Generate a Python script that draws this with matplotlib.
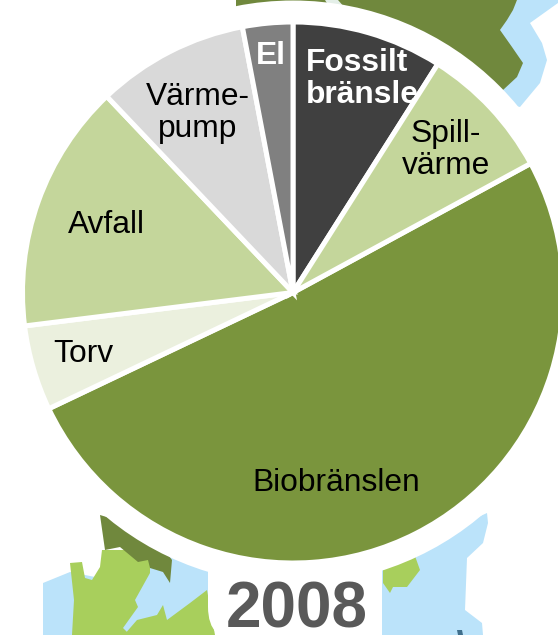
import matplotlib.pyplot as plt
from matplotlib.patches import Polygon, Circle, FancyBboxPatch

plt.rcParams['font.family'] = ['Liberation Sans', 'DejaVu Sans']

# andelar i procent, medurs fran toppen
categories = ["Fossilt bränsle", "Spillvärme", "Biobränslen", "Torv", "Avfall", "Värmepump", "El"]
values = [9.0, 8.1, 50.9, 5.1, 14.9, 9.1, 3.0]
colors = ["#404040", "#C4D69B", "#7A953D", "#EBF0DE", "#C4D69B", "#D9D9D9", "#808080"]
year = "2008"

BLUE = "#BBE3FA"
DARK_GREEN = "#70883D"
LIGHT_GREEN = "#A8CF5C"

fig = plt.figure(figsize=(5.58, 6.35), dpi=100)
ax = fig.add_axes([0, 0, 1, 1])

# kartan i bakgrunden, i pixelkoordinater
map_shapes = [
    (BLUE, [(517, 0), (558, 0), (558, 3), (530, 23), (542, 43), (547, 60), (540, 83), (520, 107), (490, 100), (500, 30)]),
    (DARK_GREEN, [(236, 0), (517, 0), (513, 10), (507, 20), (500, 30), (512, 47), (523, 63), (517, 77), (503, 90), (480, 110), (300, 60), (236, 30)]),
    ("#E4EFE8", [(325, 0), (338, 0), (345, 8), (330, 8)]),
    (BLUE, [(43, 583), (70, 572), (100, 578), (150, 540), (208, 550), (208, 635), (43, 635)]),
    (LIGHT_GREEN, [(70, 563), (82, 562), (85, 578), (92, 580), (100, 567), (102, 550), (150, 550), (150, 573), (135, 600),
                   (138, 607), (123, 628), (130, 635), (72, 635), (74, 600)]),
    (LIGHT_GREEN, [(124, 635), (137, 620), (157, 615), (163, 605), (167, 620), (190, 603), (207, 590), (215, 635)]),
    (DARK_GREEN, [(100, 515), (105, 550), (120, 547), (138, 562), (148, 560), (150, 568), (163, 572), (170, 583), (172, 560), (150, 530)]),
    (BLUE, [(487, 513), (488, 523), (483, 543), (467, 558), (465, 610), (482, 623), (483, 635), (382, 635), (382, 560), (450, 530)]),
    (LIGHT_GREEN, [(383, 568), (415, 556), (420, 570), (407, 587), (393, 587), (390, 593), (383, 583)]),
    ("#3F6F8C", [(457, 630), (462, 630), (463, 635), (458, 635)]),
]
for color, points in map_shapes:
    ax.add_patch(Polygon(points, closed=True, facecolor=color, edgecolor='none', zorder=0))

# vit ring runt diagrammet
ax.add_patch(Circle((293, 292.5), 292, facecolor='white', edgecolor='none', zorder=0.5))
ax.add_patch(FancyBboxPatch((243, 575), 104, 32, boxstyle="round,pad=35", facecolor='white', edgecolor='none', zorder=0.5))

# y-axeln ar inverterad, darfor -90 och counterclock for att ga medurs fran toppen
wedges, _ = ax.pie(values, colors=colors, startangle=-90, counterclock=True,
                   center=(293, 292.5), radius=270.5, frame=True,
                   wedgeprops={'edgecolor': 'white', 'linewidth': 3.6})
for wedge in wedges:
    wedge.set_zorder(1)
wedges[1].set_zorder(3)  # Spillvärme ligger over texten "bränsle"

ax.set_xlim(0, 558)
ax.set_ylim(635, 0)
ax.axis('off')

fs = 22.9
ax.text(306, 63, "Fossilt", fontsize=fs, fontweight='bold', color='white', ha='left', va='center', zorder=2)
ax.text(306, 95, "bränsle", fontsize=fs, fontweight='bold', color='white', ha='left', va='center', zorder=2)
ax.text(271, 56, "El", fontsize=fs, fontweight='bold', color='white', ha='center', va='center', zorder=4)
ax.text(198, 97, "Värme-", fontsize=fs, ha='center', va='center', zorder=4)
ax.text(198, 129, "pump", fontsize=fs, ha='center', va='center', zorder=4)
ax.text(446, 134, "Spill-", fontsize=fs, ha='center', va='center', zorder=4)
ax.text(446, 166, "värme", fontsize=fs, ha='center', va='center', zorder=4)
ax.text(106, 225, "Avfall", fontsize=fs, ha='center', va='center', zorder=4)
ax.text(83, 354, "Torv", fontsize=fs, ha='center', va='center', zorder=4)
ax.text(336, 483, "Biobränslen", fontsize=fs, ha='center', va='center', zorder=4)
ax.text(296.5, 628, year, fontsize=46, fontweight='bold', color='#595959', ha='center', va='baseline', zorder=4)

fig.savefig("out.png", dpi=100)
